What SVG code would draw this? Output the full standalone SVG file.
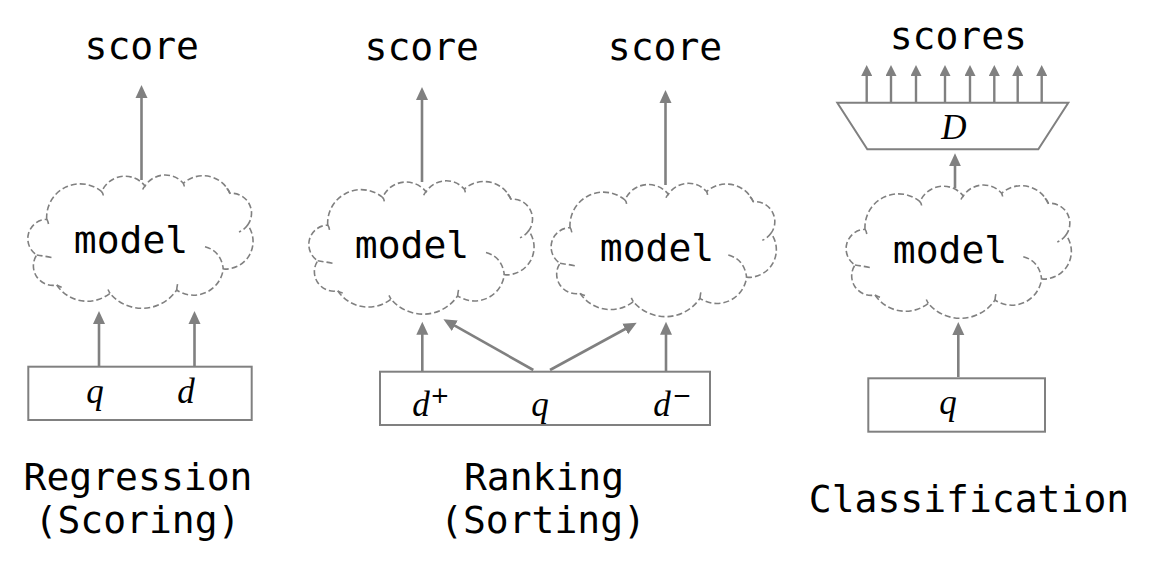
<svg xmlns="http://www.w3.org/2000/svg" xmlns:xlink="http://www.w3.org/1999/xlink" width="1153" height="568" viewBox="0 0 1153 568">
<style>
.mono{font-family:"DejaVu Sans Mono","Liberation Mono",monospace;font-size:38px;fill:#000;text-anchor:middle}
.math{font-family:"Liberation Serif","DejaVu Serif",serif;font-style:italic;font-size:35px;fill:#000;text-anchor:middle}
.sup{font-family:"DejaVu Sans","Liberation Sans",sans-serif;font-size:23px;fill:#000;text-anchor:middle}
.box{fill:#fff;stroke:#808080;stroke-width:2}
.cloud{fill:#fff;stroke:#808080;stroke-width:1.6;stroke-dasharray:6 3}
.tick{fill:none;stroke:#808080;stroke-width:1.6;stroke-dasharray:6 3}
.arr{stroke:#808080;stroke-width:2.6;fill:none;marker-end:url(#ah)}
.sarr{stroke:#808080;stroke-width:2.4;fill:none;marker-end:url(#sah)}
</style>
<defs>
<marker id="ah" markerUnits="userSpaceOnUse" markerWidth="14" markerHeight="13" refX="2" refY="6.5" orient="auto"><path d="M0,0.5 L13,6.5 L0,12.5 z" fill="#808080"/></marker>
<marker id="sah" markerUnits="userSpaceOnUse" markerWidth="12" markerHeight="11" refX="2" refY="5.5" orient="auto"><path d="M0,0 L11,5.5 L0,11 z" fill="#808080"/></marker>
<g id="cloudshape">
<path class="cloud" d="M19.7 46.3 A33.5 33.5 0 0 1 74.7 18.7 A25.3 25.3 0 0 1 118 13 A24 24 0 0 1 156.3 10.3 A29.5 29.5 0 0 1 203 20.3 A20 20 0 0 1 220.7 52 A27.7 27.7 0 0 1 196.3 96 A30 30 0 0 1 149.7 117 A41.8 41.8 0 0 1 83 120.3 A36.7 36.7 0 0 1 29.7 112 A19.5 19.5 0 0 1 9.7 82 A19.4 19.4 0 0 1 19.7 46.3 Z"/>
<path class="tick" d="M19.7 46.3 Q21 48 21.5 51 M74.7 18.7 Q76 20 76.3 22.5 M118 13 Q116.5 14.5 115.7 16.5 M156.3 10.3 Q157 11.5 157.3 13.5 M199.7 15.3 Q202.5 18.5 203.7 23 M220.7 52 Q217 57 212 59 M178 73.7 Q194 78 196.3 96 M149.7 117 Q150 113 151 109 M83 120.3 Q82 118.5 81 116.5 M29.7 112 Q32 113.5 34.7 114.3 M9.7 82 Q17 83 24.7 84.5"/>
</g>
</defs>
<rect width="1153" height="568" fill="#fff"/>

<g id="connectors">
<line class="arr" x1="141.5" y1="180" x2="141.5" y2="96"/>
<line class="arr" x1="422" y1="182" x2="422" y2="98"/>
<line class="arr" x1="665.5" y1="185" x2="665.5" y2="101"/>
<line class="arr" x1="99" y1="366" x2="99" y2="322"/>
<line class="arr" x1="194.5" y1="366" x2="194.5" y2="322"/>
<line class="arr" x1="422.3" y1="371" x2="422.3" y2="332.7"/>
<line class="arr" x1="666" y1="371" x2="666" y2="332.7"/>
<line class="arr" x1="533.3" y1="370" x2="453" y2="324.7"/>
<line class="arr" x1="550" y1="370" x2="627" y2="328"/>
<line class="arr" x1="958.3" y1="377" x2="958.3" y2="333"/>
<line class="arr" x1="955" y1="188" x2="955" y2="164.3"/>
<line class="sarr" x1="866.7" y1="102" x2="866.7" y2="74"/>
<line class="sarr" x1="891" y1="102" x2="891" y2="74"/>
<line class="sarr" x1="916" y1="102" x2="916" y2="74"/>
<line class="sarr" x1="945" y1="102" x2="945" y2="74"/>
<line class="sarr" x1="970" y1="102" x2="970" y2="74"/>
<line class="sarr" x1="994.3" y1="102" x2="994.3" y2="74"/>
<line class="sarr" x1="1017.7" y1="102" x2="1017.7" y2="74"/>
<line class="sarr" x1="1041.7" y1="102" x2="1041.7" y2="74"/>
</g>

<g id="cloud1"><use xlink:href="#cloudshape" transform="translate(27,173)"/><text class="mono" x="131" y="253.3">model</text></g>
<g id="cloud2"><use xlink:href="#cloudshape" transform="translate(308,178.8)"/><text class="mono" x="412" y="258.3">model</text></g>
<g id="cloud3"><use xlink:href="#cloudshape" transform="translate(550.3,181.3)"/><text class="mono" x="657" y="260.7">model</text></g>
<g id="cloud4"><use xlink:href="#cloudshape" transform="translate(845.3,183)"/><text class="mono" x="950" y="263.3">model</text></g>

<g id="score1"><text class="mono" x="141.7" y="58.5">score</text></g>
<g id="score2"><text class="mono" x="421.7" y="60">score</text></g>
<g id="score3"><text class="mono" x="665" y="59.5">score</text></g>
<g id="scores"><text class="mono" x="958.3" y="48.5">scores</text></g>

<g id="decoder"><polygon class="box" points="837.3,102.7 1068.3,102.7 1038.3,149.3 867.3,149.3"/><text class="math" x="954" y="139">D</text></g>

<g id="input1"><rect class="box" x="28.3" y="366.7" width="223.4" height="53.3"/><text class="math" x="95" y="403">q</text><text class="math" x="186" y="403">d</text></g>
<g id="input2"><rect class="box" x="380" y="371.7" width="330" height="53.3"/><text class="math" x="421" y="416">d</text><text class="sup" x="440" y="403">+</text><text class="math" x="540" y="416">q</text><text class="math" x="662" y="416">d</text><text class="sup" x="682" y="403">−</text></g>
<g id="input3"><rect class="box" x="868.3" y="378.3" width="176.7" height="53.4"/><text class="math" x="948" y="414">q</text></g>

<g id="labels">
<text class="mono" x="138" y="490">Regression</text>
<text class="mono" x="137.5" y="533">(Scoring)</text>
<text class="mono" x="544" y="490">Ranking</text>
<text class="mono" x="543" y="533">(Sorting)</text>
<text class="mono" x="969" y="512">Classification</text>
</g>
</svg>
